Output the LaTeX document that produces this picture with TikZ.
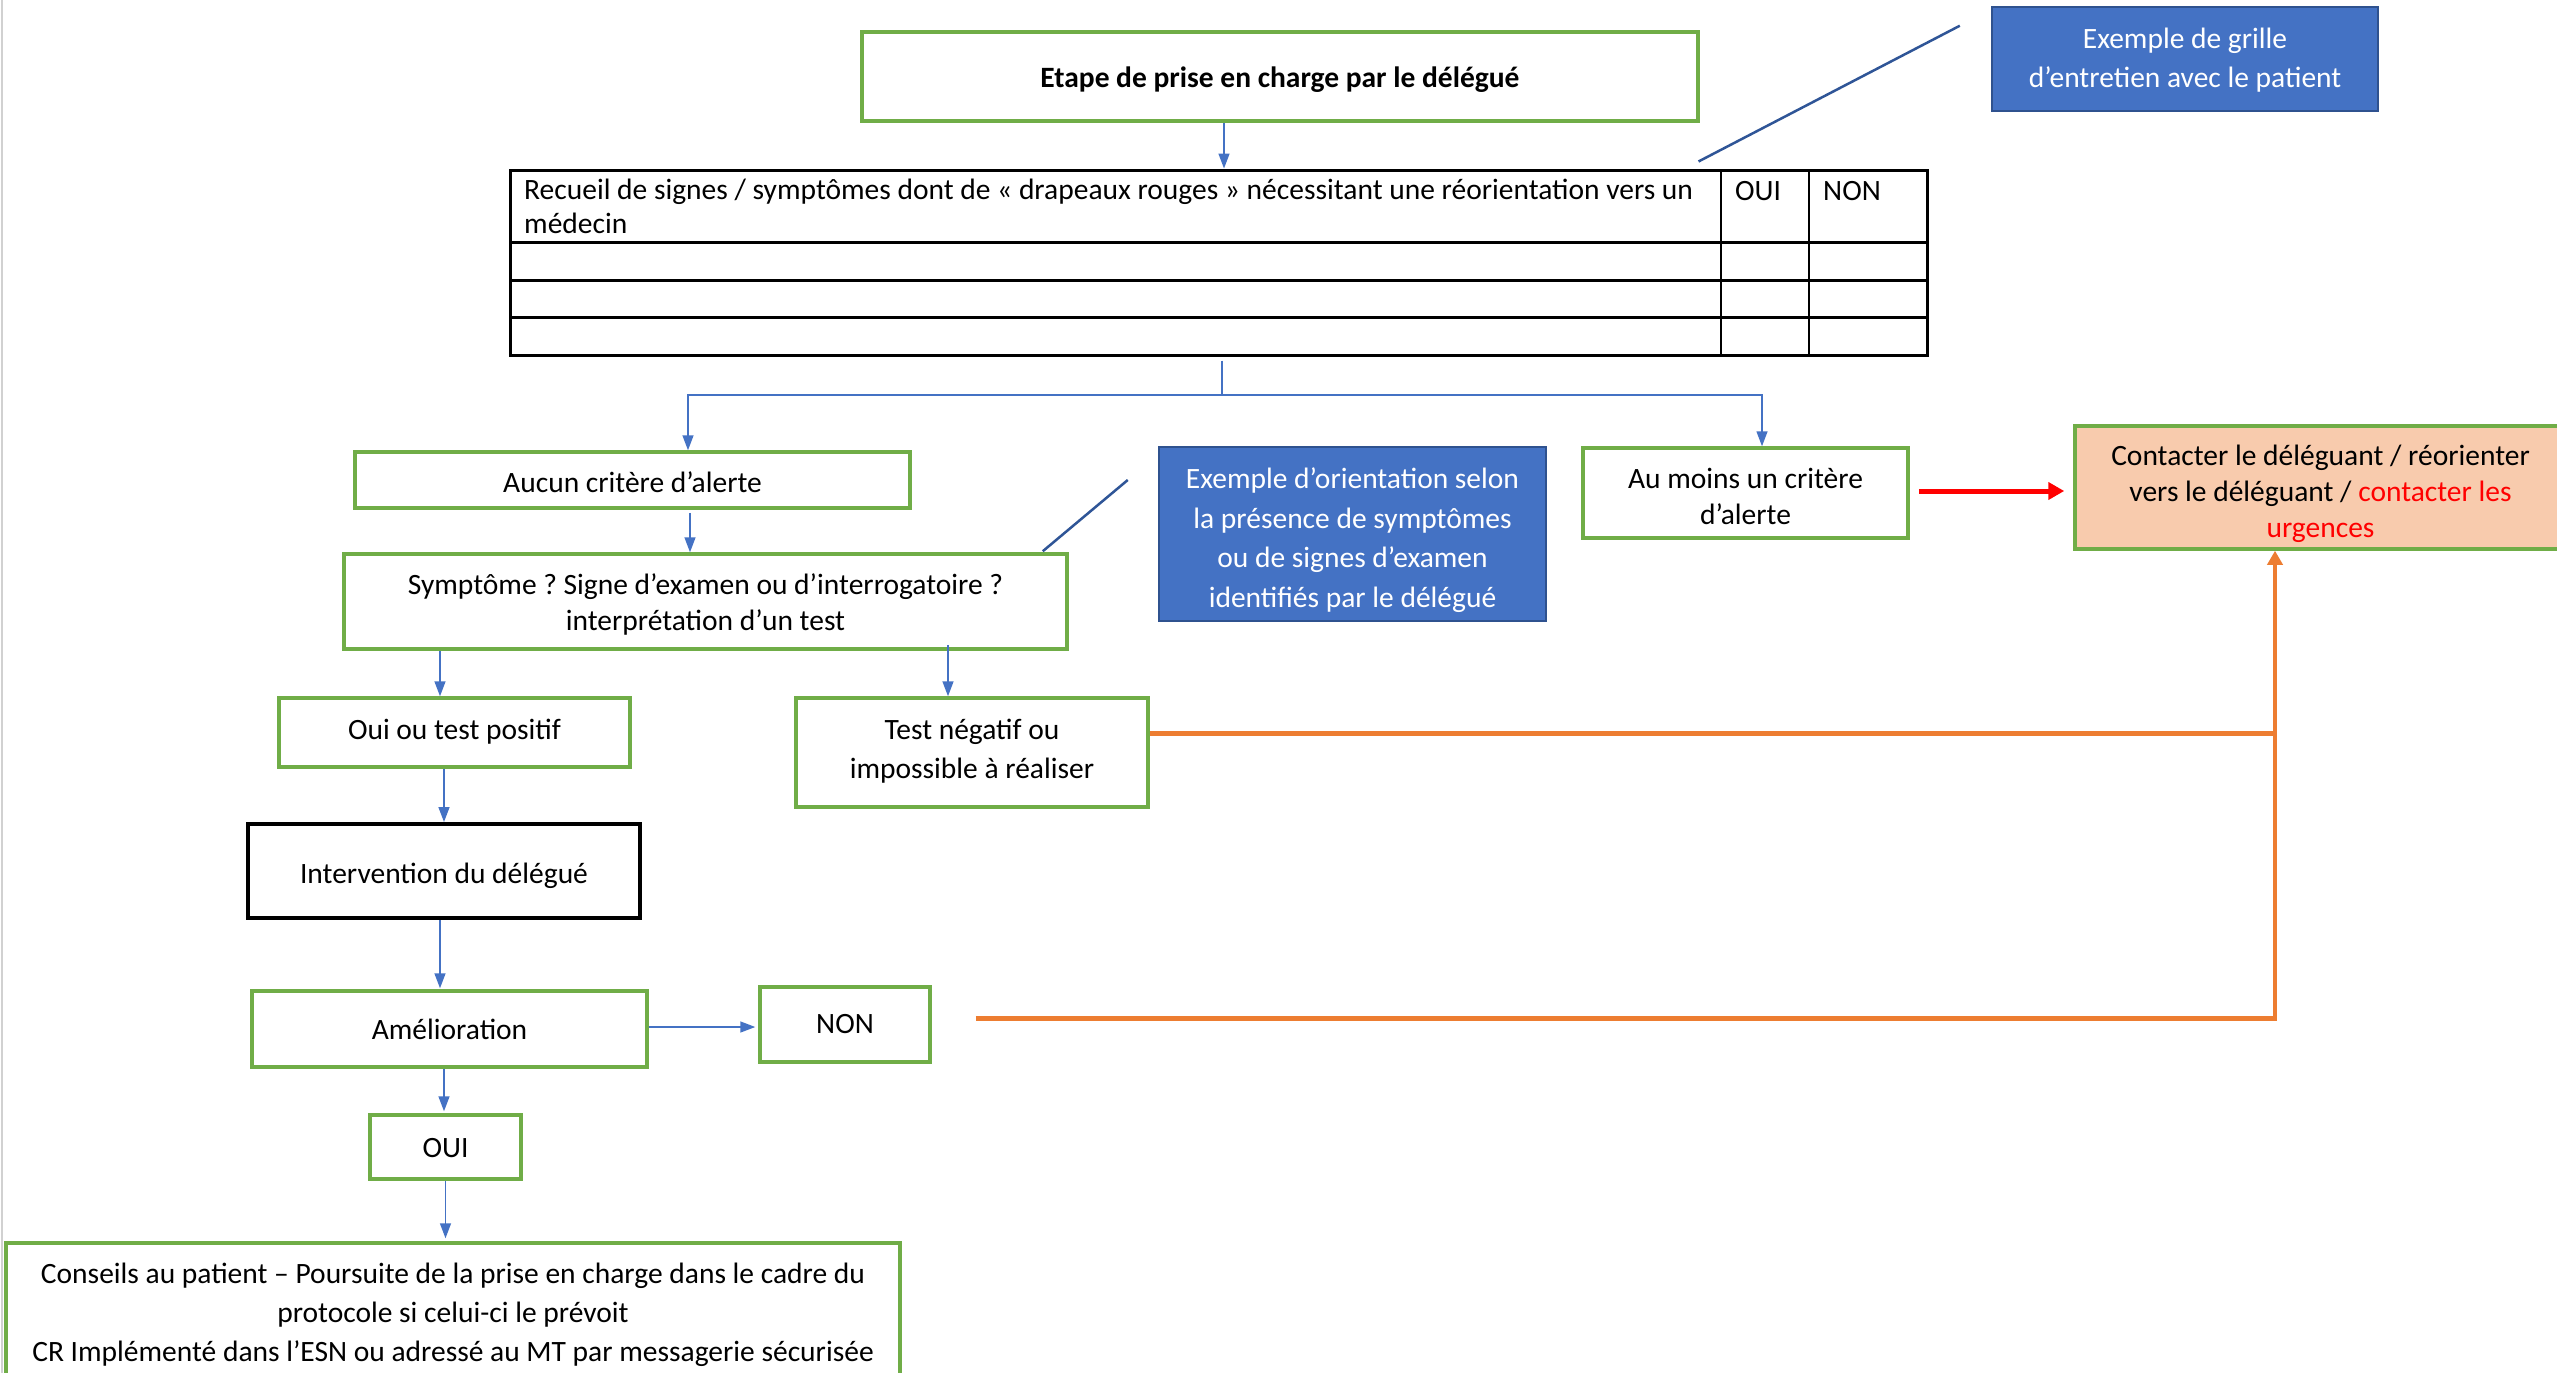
\documentclass[tikz,border=0pt]{standalone}
\usepackage{fontspec}
\setmainfont{Carlito}
\usetikzlibrary{arrows.meta,calc}
\definecolor{gr}{HTML}{70AD47}
\definecolor{bl}{HTML}{4472C4}
\definecolor{bldk}{HTML}{2F528F}
\definecolor{conncol}{HTML}{2F5597}
\definecolor{orng}{HTML}{ED7D31}
\definecolor{peach}{HTML}{F8CBAD}
\definecolor{rd}{HTML}{FF0000}
% [box style]{name}{x1}{y1}{x2}{y2}{text style}{text}
\newcommand\mybox[8][]{\node[#1, minimum width={(#5-#3)*1pt}, minimum height={(#6-#4)*1pt}] (#2) at ({(#3+#5)/2},{(#4+#6)/2}) {};
  \node[#7] (#2-t) at (#2.center) {#8};}
\begin{document}
\frenchspacing
\begin{tikzpicture}[x=1pt,y=-1pt,
  every node/.style={font=\fontsize{29.5}{36}\selectfont, inner sep=0pt, align=center},
  gbox/.style={draw=gr, line width=3.5pt},
  bbox/.style={fill=bl, draw=bldk, line width=2.5pt},
  btext/.style={text=white, font=\fontsize{29.5}{39.5}\selectfont},
  wide/.style={font=\fontsize{29.5}{39}\selectfont},
  arr/.style={draw=bl, line width=1.5pt, -{Triangle[length=15pt,width=11pt]}},
  ln/.style={draw=bl, line width=1.5pt},
  orh/.style={draw=orng, line width=5pt},
  orv/.style={draw=orng, line width=3.5pt, -{Triangle[length=14pt,width=15pt]}},
  redarr/.style={draw=rd, line width=5pt, -{Triangle[length=16pt,width=17pt]}},
  conn/.style={draw=conncol, line width=2.5pt}]
\useasboundingbox (0,0) rectangle (2557,1373);
\fill[white] (0,0) rectangle (2557,1373);
\draw[black!18, line width=1.5pt] (2,0) -- (2,1373);

% boxes
\mybox[gbox]{title}{862}{32}{1698}{121}{yshift=-3pt,font=\bfseries\fontsize{29.5}{36}\selectfont}{Etape de prise en charge par le délégué}
\mybox[bbox]{blue1}{1992}{7}{2378}{111}{btext,yshift=-1pt}{Exemple de grille\\d’entretien avec le patient}
\mybox[draw=black, line width=3pt]{table}{510}{170}{1927}{355}{}{}
\mybox[gbox]{aucun}{355}{452}{910}{508}{yshift=-2pt}{Aucun critère d’alerte}
\mybox[gbox]{sympt}{344}{554}{1067}{649}{yshift=-3pt}{Symptôme ? Signe d’examen ou d’interrogatoire ?\\interprétation d’un test}
\mybox[bbox]{blue2}{1159}{447}{1546}{621}{btext,yshift=-6pt}{Exemple d’orientation selon\\la présence de symptômes\\ou de signes d’examen\\identifiés par le délégué}
\mybox[gbox]{aumoins}{1583}{448}{1908}{538}{yshift=-3pt}{Au moins un critère\\d’alerte}
\mybox[gbox,fill=peach]{contact}{2075}{426}{2566}{549}{yshift=-6pt}{Contacter le déléguant / réorienter\\vers le déléguant / \textcolor{rd}{contacter les}\\\textcolor{rd}{urgences}}
\mybox[gbox]{oui}{279}{698}{630}{767}{yshift=1pt}{Oui ou test positif}
\mybox[gbox]{testneg}{796}{698}{1148}{807}{wide,yshift=1pt}{Test négatif ou\\impossible à réaliser}
\mybox[draw=black,line width=4pt]{interv}{248}{824}{640}{918}{yshift=-5pt}{Intervention du délégué}
\mybox[gbox]{amelio}{252}{991}{647}{1067}{}{Amélioration}
\mybox[gbox]{non}{760}{987}{930}{1062}{}{NON}
\mybox[gbox]{ouib}{370}{1115}{521}{1179}{yshift=-1pt}{OUI}
\mybox[gbox]{conseils}{6}{1243}{900}{1380}{wide,yshift=-3pt}{Conseils au patient – Poursuite de la prise en charge dans le cadre du\\protocole si celui-ci le prévoit\\CR Implémenté dans l’ESN ou adressé au MT par messagerie sécurisée}

% table internals
\draw[line width=3pt] (510,242) -- (1927,242) (510,280) -- (1927,280) (510,317) -- (1927,317);
\draw[line width=2pt] (1721,170) -- (1721,355) (1809,170) -- (1809,355);
\node[anchor=north west, align=left, font=\fontsize{29.5}{34}\selectfont] (thdr) at (524,179) {Recueil de signes / symptômes dont de « drapeaux rouges » nécessitant une réorientation vers un\\médecin};
\node[anchor=north west] (thoui) at (1735,181) {OUI};
\node[anchor=north west] (thnon) at (1823,181) {NON};

% connectors
\draw[arr] ([xshift=-56pt]title.south) coordinate (t1) -- (t1 |- table.north);
\coordinate (split) at (1222,395);
\draw[ln] ([yshift=-4pt]table.south -| split) -- (split);
\draw[arr] (split) -| ([xshift=55.5pt]aucun.north);
\draw[arr] (split) -| ([xshift=16.5pt]aumoins.north);
\draw[arr] ([xshift=57.5pt,yshift=-3pt]aucun.south) coordinate (s1) -- (s1 |- sympt.north);
\draw[arr] ([xshift=-265.5pt]sympt.south) coordinate (s2) -- (s2 |- oui.north);
\draw[arr] ([xshift=242.5pt,yshift=6pt]sympt.south) coordinate (s3) -- (s3 |- testneg.north);
\draw[arr] ([xshift=-10.5pt]oui.south) coordinate (s4) -- (s4 |- interv.north);
\draw[arr] ([xshift=-4pt]interv.south) coordinate (s5) -- ([yshift=1pt]s5 |- amelio.north);
\draw[arr] ([yshift=2pt]amelio.east) coordinate (s6) -- ([xshift=-3pt]s6 -| non.west);
\draw[arr] ([xshift=-5.5pt]amelio.south) coordinate (s7) -- ([yshift=2pt]s7 |- ouib.north);
\draw[arr] (ouib.south) coordinate (s8) -- ([yshift=3pt]s8 |- conseils.north);
\draw[redarr] ([xshift=9pt,yshift=2pt]aumoins.east) coordinate (s9) -- ([xshift=-9pt]s9 -| contact.west);

\coordinate (ocorner) at (2275,1018);
\draw[orh] ([yshift=19.5pt]testneg.east) coordinate (o1) -- (o1 -| ocorner);
\draw[orh] ([xshift=44pt,yshift=6.5pt]non.east) -- ([xshift=1.5pt]ocorner);
\draw[orv] ([yshift=-1pt]ocorner) -- (ocorner |- contact.south);

\draw[conn] ([xshift=-230pt,yshift=7pt]table.north east) -- ([xshift=-31pt,yshift=-20pt]blue1.north west);
\draw[conn] ([xshift=-26pt,yshift=1pt]sympt.north east) -- ([xshift=-30pt,yshift=54pt]blue2.west);
\end{tikzpicture}
\end{document}
